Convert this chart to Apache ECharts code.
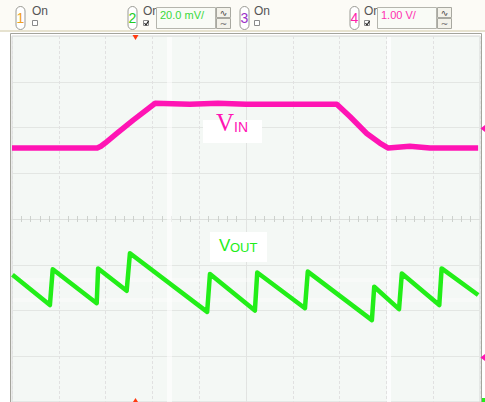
<!DOCTYPE html>
<html>
<head>
<meta charset="utf-8">
<script src="https://cdn.jsdelivr.net/npm/echarts@6/dist/echarts.min.js"></script>
<style>
    html, body { margin: 0; padding: 0; background: #fff; }
    #scope { width: 485px; height: 402px; }
</style>
</head>
<body>
<div id="scope"></div>
<script>
    // time in divisions from screen centre, level in divisions from centre
    const vinTime = [-5.0, -3.18, -3.10, -3.01, -2.76, -2.41, -1.94, -1.2, -0.6, 0.0, 1.94, 2.22, 2.58, 2.86, 3.04, 3.50, 3.93, 4.96];
    const vinLevel = [1.55, 1.55, 1.59, 1.66, 1.87, 2.16, 2.53, 2.51, 2.53, 2.51, 2.51, 2.24, 1.87, 1.66, 1.55, 1.59, 1.55, 1.55];

    const voutTime = [-4.99, -4.19, -4.13, -3.19, -3.16, -2.55, -2.48, -0.83, -0.77, 0.19, 0.24, 1.26, 1.32, 2.69, 2.74, 3.27, 3.33, 4.13, 4.18, 4.96];
    const voutLevel = [-1.22, -1.88, -1.10, -1.84, -1.08, -1.57, -0.75, -2.03, -1.20, -2.00, -1.17, -1.95, -1.15, -2.21, -1.48, -1.97, -1.19, -1.88, -1.08, -1.66];

    const chScale = ['20.0 mV/', '1.00 V/'];

    const pink = '#ff14b4';
    const green = '#22ee18';

    function pairs(xs, ys) {
        return xs.map((x, i) => [x, ys[i]]);
    }

    function xAxisCfg(pos, grid) {
        return {
            type: 'value', min: -5, max: 5, interval: 1, position: pos,
            axisLine: { onZero: true, lineStyle: { color: '#dde0dd', width: 1 } },
            axisTick: { show: false },
            minorTick: { show: true, splitNumber: 5, length: 3, lineStyle: { color: '#cdd1cd' } },
            axisLabel: { show: false },
            splitLine: { show: grid, lineStyle: { color: '#e1e1e1', type: [3, 2] } }
        };
    }

    function yAxisCfg(pos, grid) {
        return {
            type: 'value', min: -4, max: 4, interval: 1, position: pos,
            axisLine: { onZero: true, lineStyle: { color: '#e2e4e2', width: 1, type: [3, 2] } },
            axisTick: { show: false },
            minorTick: { show: false },
            axisLabel: { show: false },
            splitLine: { show: grid, lineStyle: { color: '#e3e6e3' } }
        };
    }

    function chButton(x, num, color) {
        return [
            { type: 'rect', shape: { x: x, y: 6.5, width: 9, height: 23, r: 4.5 },
              style: { fill: '#fff', stroke: '#9a9a94', lineWidth: 1 } },
            { type: 'text', x: x + 4.5, y: 18,
              style: { text: num, fill: color, font: '14px "Liberation Sans Narrow", "Liberation Sans"', textAlign: 'center', textVerticalAlign: 'middle' } }
        ];
    }

    function onBox(x, checked) {
        const els = [
            { type: 'text', x: x, y: 5,
              style: { text: 'On', fill: '#555', font: '12px "Liberation Sans Narrow", "Liberation Sans"' } },
            { type: 'rect', shape: { x: x + 0.5, y: 20.5, width: 5, height: 5 },
              style: { fill: '#fff', stroke: '#8a8a8a', lineWidth: 1 } }
        ];
        if (checked) {
            els.push({ type: 'polyline', shape: { points: [[x + 1.5, 23], [x + 3, 25], [x + 5.5, 21]] },
                       style: { stroke: '#222', lineWidth: 1.2, fill: null } });
        }
        return els;
    }

    function scaleBox(x, text, color) {
        return [
            { type: 'rect', shape: { x: x + 0.5, y: 7.5, width: 59, height: 21 },
              style: { fill: '#f9fbf6', stroke: '#b5b5ad', lineWidth: 1 } },
            { type: 'text', x: x + 4, y: 9,
              style: { text: text, fill: color, font: '11px "Liberation Sans Narrow", "Liberation Sans"' } },
            { type: 'rect', shape: { x: x + 60.5, y: 7.5, width: 14, height: 10 },
              style: { fill: '#f3f2ea', stroke: '#a8a8a0', lineWidth: 1 } },
            { type: 'rect', shape: { x: x + 60.5, y: 18.5, width: 14, height: 10 },
              style: { fill: '#f3f2ea', stroke: '#a8a8a0', lineWidth: 1 } },
            { type: 'text', x: x + 67.5, y: 12.5,
              style: { text: '∿', fill: '#444', font: '9px "DejaVu Sans"', textAlign: 'center', textVerticalAlign: 'middle' } },
            { type: 'text', x: x + 67.5, y: 23.5,
              style: { text: '~', fill: '#666', font: '9px "DejaVu Sans"', textAlign: 'center', textVerticalAlign: 'middle' } }
        ];
    }

    const chart = echarts.init(document.getElementById('scope'), null, { renderer: 'svg' });

    const graphics = [
        // control bar
        { type: 'rect', z: 0, shape: { x: 0, y: 0, width: 485, height: 32 }, style: { fill: '#fcfbf6' } },
        { type: 'rect', z: 0, shape: { x: 0, y: 30, width: 485, height: 2 }, style: { fill: '#e6e2cf' } },
        // screen frame
        { type: 'rect', z: 0, shape: { x: 10.5, y: 33.5, width: 471, height: 372 },
          style: { fill: null, stroke: '#a4a49c', lineWidth: 1 } },
        // faint white streaks of the capture
        { type: 'rect', z: 1, shape: { x: 167, y: 37, width: 5, height: 365 }, style: { fill: 'rgba(255,255,255,0.6)' } },
        { type: 'rect', z: 1, shape: { x: 387, y: 37, width: 4, height: 365 }, style: { fill: 'rgba(255,255,255,0.75)' } },
        { type: 'rect', z: 1, shape: { x: 13, y: 278, width: 466, height: 4 }, style: { fill: 'rgba(255,255,255,0.35)' } },
        { type: 'rect', z: 1, shape: { x: 13, y: 298, width: 466, height: 4 }, style: { fill: 'rgba(255,255,255,0.35)' } },
        // trigger and ground markers
        { type: 'polygon', z: 10, shape: { points: [[132.5, 35], [138.5, 35], [135.5, 40]] }, style: { fill: '#ff3a10' } },
        { type: 'polygon', z: 10, shape: { points: [[133, 402], [138, 402], [135.5, 398]] }, style: { fill: '#ff3a10' } },
        { type: 'polygon', z: 10, shape: { points: [[480.5, 128.5], [485, 125], [485, 132]] }, style: { fill: pink } },
        { type: 'polygon', z: 10, shape: { points: [[480.5, 357.5], [485, 354], [485, 361]] }, style: { fill: pink } },
        { type: 'rect', z: 10, shape: { x: 482, y: 398, width: 3, height: 4 }, style: { fill: green } },
        // trace labels
        { type: 'rect', z: 10, shape: { x: 203, y: 120, width: 59, height: 23 }, style: { fill: '#fff' } },
        { type: 'text', z: 11, x: 216, y: 110,
          style: { text: 'V', fill: pink, font: '25px "Liberation Serif"' } },
        { type: 'text', z: 11, x: 234, y: 120,
          style: { text: 'IN', fill: pink, font: '14px "Liberation Sans"' } },
        { type: 'rect', z: 10, shape: { x: 210, y: 232, width: 57, height: 30 }, style: { fill: '#fff' } },
        { type: 'text', z: 11, x: 219, y: 237,
          style: { text: 'V', fill: green, font: '17px "Liberation Sans"' } },
        { type: 'text', z: 11, x: 230, y: 241,
          style: { text: 'OUT', fill: green, font: '13px "Liberation Sans"' } }
    ]
        .concat(chButton(16, '1', '#f0a020'), onBox(32, false))
        .concat(chButton(128, '2', '#22cc22'), onBox(143, true), scaleBox(156, chScale[0], '#3ad83a'))
        .concat(chButton(240, '3', '#9a30c8'), onBox(254, false))
        .concat(chButton(350, '4', '#ff22aa'), onBox(364, true), scaleBox(377, chScale[1], '#ff30b0'));

    chart.setOption({
        animation: false,
        backgroundColor: '#ffffff',
        grid: {
            left: 12, top: 36, width: 468, height: 366,
            show: true, backgroundColor: '#f4f8f5', borderColor: '#d6d9d6', borderWidth: 1
        },
        xAxis: [xAxisCfg('bottom', true), xAxisCfg('top', false)],
        yAxis: [yAxisCfg('left', true), yAxisCfg('right', false)],
        graphic: graphics,
        series: [
            {
                name: 'VIN', type: 'line', data: pairs(vinTime, vinLevel),
                showSymbol: false, z: 5,
                lineStyle: { color: pink, width: 5.5, join: 'round' }
            },
            {
                name: 'VOUT', type: 'line', data: pairs(voutTime, voutLevel),
                showSymbol: false, z: 5,
                lineStyle: { color: green, width: 4.5, join: 'round' }
            }
        ]
    });
</script>
</body>
</html>
